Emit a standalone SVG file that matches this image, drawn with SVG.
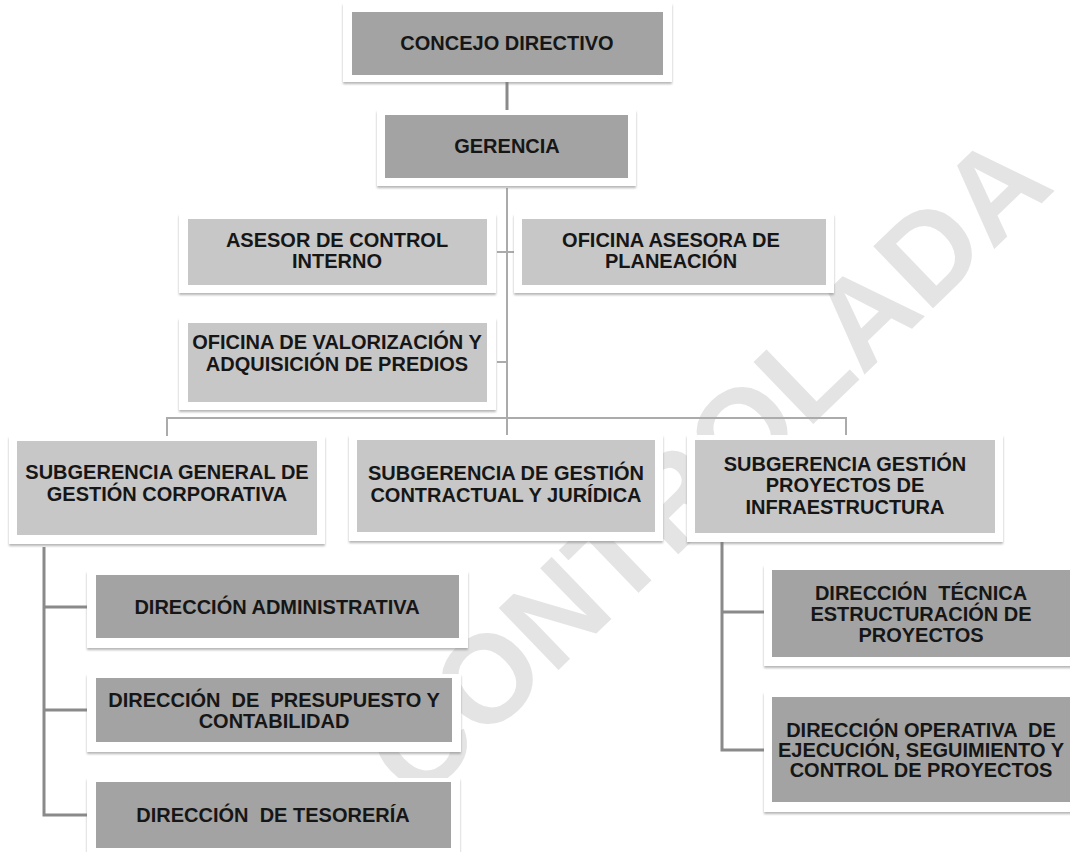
<svg xmlns="http://www.w3.org/2000/svg" width="1070" height="852" viewBox="0 0 1070 852">
<defs>
<filter id="sh" x="-5%" y="-10%" width="110%" height="130%">
<feDropShadow dx="0" dy="2" stdDeviation="1.2" flood-color="#7a7a7a" flood-opacity="0.55"/>
</filter>
</defs>
<style>
.card{fill:#ffffff;filter:url(#sh)}
.dk{fill:#a3a3a3}
.lt{fill:#c7c7c7}
.t{font-family:"Liberation Sans",Arial,sans-serif;font-weight:bold;font-size:20px;fill:#161616;text-anchor:middle}
.wm{font-family:"Liberation Sans",Arial,sans-serif;font-weight:bold;font-size:125px;fill:#e4e4e4;text-anchor:middle}
.c1{fill:none;stroke:#8a8a8a;stroke-width:3}
.c2{fill:none;stroke:#ababab;stroke-width:2}
</style>
<rect width="1070" height="852" fill="#ffffff"/>
<g id="watermark">
<text class="wm" transform="translate(706,465) rotate(-44)" x="0" y="45">CONTROLADA</text>
</g>
<g id="connectors">
<path class="c1" d="M507 82V112"/>
<path class="c2" d="M507 188V418"/>
<path class="c2" d="M167 436V418H846V436M507 418V436"/>
<path class="c2" d="M497 252H517M497 362H507"/>
<path class="c1" d="M44 547V815H87M44 607H87M44 710H87"/>
<path class="c1" d="M722 542V750H764M722 612H764"/>
</g>
<g id="n1"><rect class="card" x="343" y="3" width="329" height="79"/><rect class="dk" x="352" y="12" width="311" height="63"/><text class="t" x="507" y="50">CONCEJO DIRECTIVO</text></g>
<g id="n2"><rect class="card" x="377" y="110" width="259" height="76"/><rect class="dk" x="385" y="115" width="243" height="63"/><text class="t" x="507" y="153">GERENCIA</text></g>
<g id="n3"><rect class="card" x="179" y="214" width="317" height="79"/><rect class="lt" x="188" y="219" width="299" height="66"/><text class="t" x="337" y="247">ASESOR DE CONTROL</text><text class="t" x="337" y="268">INTERNO</text></g>
<g id="n4"><rect class="card" x="514" y="214" width="320" height="79"/><rect class="lt" x="522" y="219" width="304" height="66"/><text class="t" x="671" y="247">OFICINA ASESORA DE</text><text class="t" x="671" y="268">PLANEACIÓN</text></g>
<g id="n5"><rect class="card" x="179" y="318" width="317" height="92"/><rect class="lt" x="188" y="323" width="299" height="79"/><text class="t" x="337" y="349">OFICINA DE VALORIZACIÓN Y</text><text class="t" x="337" y="371">ADQUISICIÓN DE PREDIOS</text></g>
<g id="n6"><rect class="card" x="9" y="436" width="316" height="108"/><rect class="lt" x="17" y="441" width="300" height="94"/><text class="t" x="167" y="479">SUBGERENCIA GENERAL DE</text><text class="t" x="167" y="501">GESTIÓN CORPORATIVA</text></g>
<g id="n7"><rect class="card" x="349" y="435" width="314" height="106"/><rect class="lt" x="357" y="440" width="298" height="92"/><text class="t" x="506" y="480">SUBGERENCIA DE GESTIÓN</text><text class="t" x="506" y="502">CONTRACTUAL Y JURÍDICA</text></g>
<g id="n8"><rect class="card" x="687" y="435" width="316" height="107"/><rect class="lt" x="695" y="440" width="300" height="93"/><text class="t" x="845" y="471">SUBGERENCIA GESTIÓN</text><text class="t" x="845" y="492">PROYECTOS DE</text><text class="t" x="845" y="514">INFRAESTRUCTURA</text></g>
<g id="n9"><rect class="card" x="87" y="571" width="381" height="77"/><rect class="dk" x="96" y="575" width="363" height="63"/><text class="t" x="277" y="614">DIRECCIÓN ADMINISTRATIVA</text></g>
<g id="n10"><rect class="card" x="87" y="674" width="374" height="78"/><rect class="dk" x="96" y="678" width="356" height="64"/><text class="t" x="274" y="707" xml:space="preserve">DIRECCIÓN  DE  PRESUPUESTO Y</text><text class="t" x="274" y="728">CONTABILIDAD</text></g>
<g id="n11"><rect class="card" x="87" y="778" width="373" height="80"/><rect class="dk" x="96" y="782" width="355" height="66"/><text class="t" x="273" y="822" xml:space="preserve">DIRECCIÓN  DE TESORERÍA</text></g>
<g id="n12"><rect class="card" x="764" y="565" width="316" height="101"/><rect class="dk" x="772" y="570" width="300" height="87"/><text class="t" x="921" y="600" xml:space="preserve">DIRECCIÓN  TÉCNICA</text><text class="t" x="921" y="621">ESTRUCTURACIÓN DE</text><text class="t" x="921" y="642">PROYECTOS</text></g>
<g id="n13"><rect class="card" x="764" y="692" width="316" height="120"/><rect class="dk" x="772" y="697" width="300" height="105"/><text class="t" x="921" y="737" xml:space="preserve">DIRECCIÓN OPERATIVA  DE</text><text class="t" x="921" y="757">EJECUCIÓN, SEGUIMIENTO Y</text><text class="t" x="921" y="777">CONTROL DE PROYECTOS</text></g>
</svg>
